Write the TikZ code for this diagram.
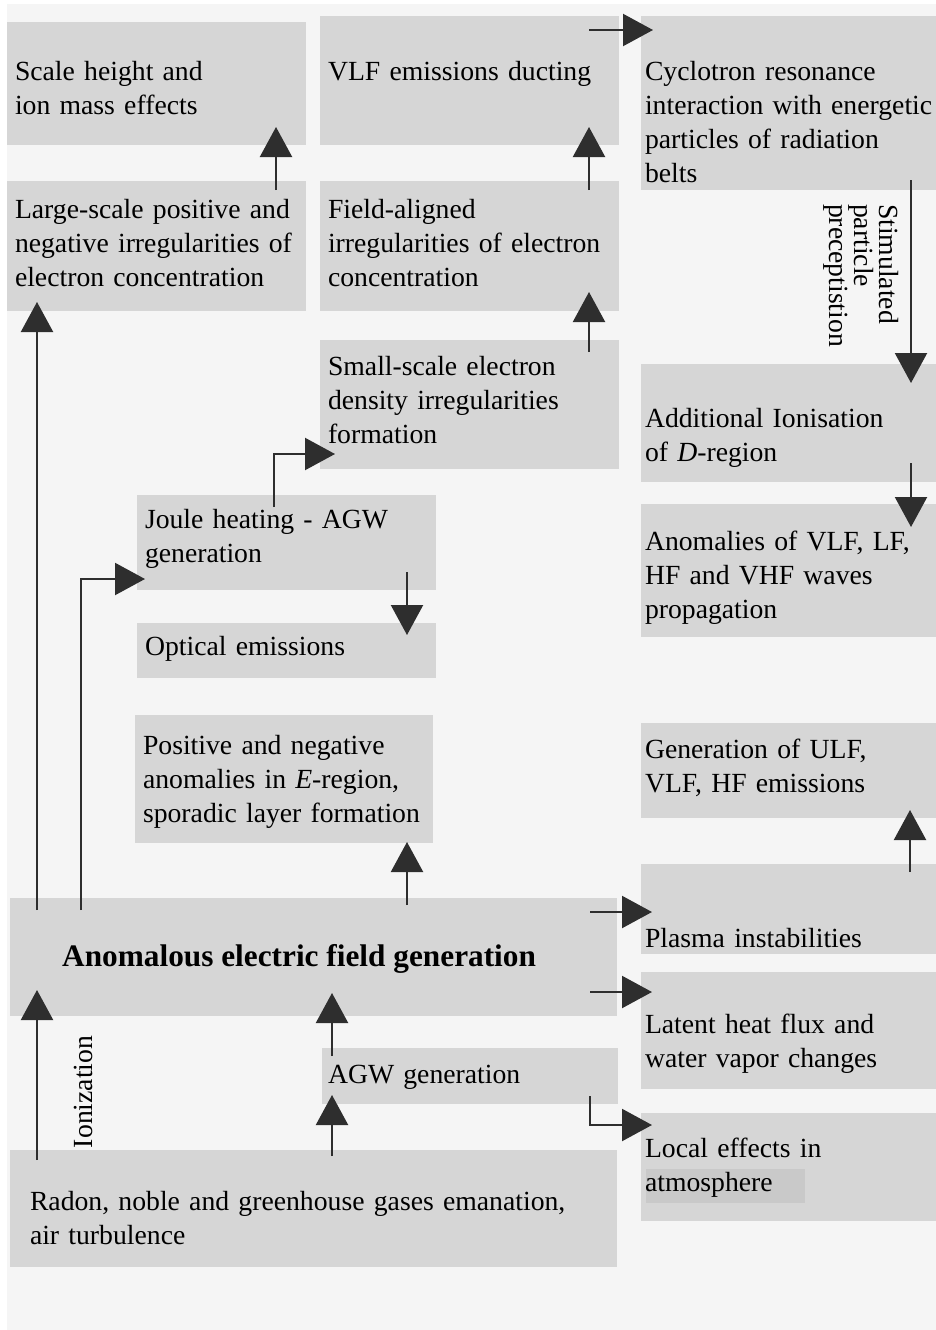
\documentclass[tikz,border=0pt]{standalone}
\usepackage{fontspec}
\setmainfont{Liberation Serif}
\usetikzlibrary{arrows.meta,calc}
\definecolor{bgc}{HTML}{F5F5F5}
\definecolor{boxc}{HTML}{D6D6D6}
\definecolor{arrc}{HTML}{2E2E2E}
\definecolor{hlc}{HTML}{C9C9C9}
\newcommand\mkbox[5]{\node[boxnode,minimum width={#4pt-#2pt},minimum height={#5pt-#3pt}] (#1) at (#2,#3) {};}
\begin{document}
\begin{tikzpicture}[x=1pt,y=-1pt,
  boxnode/.style={fill=boxc,draw=none,inner sep=0pt,outer sep=0pt,anchor=north west},
  txt/.style={anchor=north west,inner sep=0pt,outer sep=0pt,align=left,text width=#1,
    font=\fontsize{27.7}{34}\selectfont,execute at begin node=\strut},
  rot/.style={inner sep=0pt,outer sep=0pt,align=left,font=\fontsize{27.7}{25}\selectfont},
  arr/.style={draw=arrc,line width=2.2pt,-{Triangle[length=30pt,width=32pt,fill=arrc]}}]
\useasboundingbox (0,0) rectangle (936,1330);
\fill[white] (0,0) rectangle (936,1330);
\fill[bgc] (7,4) rectangle (936,1330);
% boxes
\mkbox{sh}{7}{22}{306}{145}
\mkbox{vlf}{320}{16}{619}{145}
\mkbox{cyc}{641}{16}{936}{190}
\mkbox{lg}{7}{181}{306}{311}
\mkbox{fa}{320}{181}{619}{311}
\mkbox{ss}{320}{340}{619}{469}
\mkbox{ai}{641}{364}{936}{482}
\mkbox{an}{641}{504}{936}{637}
\mkbox{jh}{137}{495}{436}{590}
\mkbox{oe}{137}{623}{436}{678}
\mkbox{pn}{135}{715}{433}{843}
\mkbox{gu}{641}{723}{936}{818}
\mkbox{ae}{10}{898}{617}{1016}
\mkbox{pi}{641}{864}{936}{954}
\mkbox{lh}{641}{972}{936}{1089}
\mkbox{agw}{322}{1048}{618}{1104}
\mkbox{le}{641}{1113}{936}{1221}
\mkbox{rd}{10}{1150}{617}{1267}
\fill[hlc] (646,1169) rectangle (805,1203);
% texts
\node[txt=400pt] (tsh) at (15,57) {Scale height and\\ion mass effects};
\node[txt=400pt] (tvlf) at (328,57) {VLF emissions ducting};
\node[txt=400pt] (tcyc) at (645,57) {Cyclotron resonance\\interaction with energetic\\particles of radiation\\belts};
\node[txt=400pt] (tlg) at (15,195) {Large-scale positive and\\negative irregularities of\\electron concentration};
\node[txt=400pt] (tfa) at (328,195) {Field-aligned\\irregularities of electron\\concentration};
\node[txt=400pt] (tss) at (328,352) {Small-scale electron\\density irregularities\\formation};
\node[txt=400pt] (tai) at (645,404) {Additional Ionisation\\of \textit{D}-region};
\node[txt=400pt] (tan) at (645,527) {Anomalies of VLF, LF,\\HF and VHF waves\\propagation};
\node[txt=400pt] (tjh) at (145,505) {Joule heating - AGW\\generation};
\node[txt=400pt] (toe) at (145,632) {Optical emissions};
\node[txt=400pt] (tpn) at (143,731) {Positive and negative\\anomalies in \textit{E}-region,\\sporadic layer formation};
\node[txt=400pt] (tgu) at (645,735) {Generation of ULF,\\VLF, HF emissions};
\node[anchor=base west,inner sep=0pt,font=\fontsize{31.3}{34}\selectfont\bfseries] (tae) at (62,966) {Anomalous electric field generation};
\node[txt=400pt] (tpi) at (645,924) {Plasma instabilities};
\node[txt=400pt] (tlh) at (645,1010) {Latent heat flux and\\water vapor changes};
\node[txt=400pt] (tagw) at (328,1060) {AGW generation};
\node[txt=400pt] (tle) at (645,1134) {Local effects in\\atmosphere};
\node[txt=700pt] (trd) at (30,1187) {Radon, noble and greenhouse gases emanation,\\air turbulence};
% rotated labels
\node[rot,rotate=-90,anchor=north west] (lstim) at (899,204) {Stimulated\\particle\\preceptistion};
\node[rot,rotate=90,anchor=base west,font=\fontsize{27.7}{34}\selectfont] (lion) at (92,1148) {Ionization};
% arrows
\draw[arr] ($(lg.north west)+(269,9)$) -- ($(sh.south west)+(269,-18)$);
\draw[arr] ($(fa.north west)+(269,9)$) -- ($(vlf.south west)+(269,-18)$);
\draw[arr] ($(vlf.north east)+(-30,14)$) -- ($(cyc.north west)+(12,14)$);
\draw[arr] ($(cyc.south east)+(-25,-10)$) -- ($(ai.north east)+(-25,19)$);
\draw[arr] ($(ss.north west)+(269,12)$) -- ($(fa.south west)+(269,-19)$);
\draw[arr] ($(ai.south east)+(-25,-19)$) -- ($(an.north east)+(-25,23)$);
\draw[arr] ($(jh.north west)+(137,12)$) |- ($(ss.south west)+(15,-15)$);
\draw[arr] ($(ae.north west)+(71,12)$) |- ($(jh.south west)+(8,-11)$);
\draw[arr] ($(jh.south west)+(270,-18)$) -- ($(oe.north west)+(270,12)$);
\draw[arr] ($(ae.north west)+(27,12)$) -- ($(lg.south west)+(30,-9)$);
\draw[arr] ($(ae.north west)+(397,7)$) -- ($(pn.south west)+(272,-1)$);
\draw[arr] ($(pi.north east)+(-26,8)$) -- ($(gu.south east)+(-26,-8)$);
\draw[arr] ($(ae.north east)+(-27,14)$) -- ($(pi.north west)+(11,48)$);
\draw[arr] ($(ae.south east)+(-27,-24)$) -- ($(lh.north west)+(11,20)$);
\draw[arr] ($(agw.south east)+(-28,-8)$) |- ($(le.north west)+(11,12)$);
\draw[arr] ($(rd.north west)+(27,10)$) -- ($(ae.south west)+(27,-26)$);
\draw[arr] ($(rd.north west)+(322,6)$) -- ($(agw.south west)+(10,-9)$);
\draw[arr] ($(agw.north west)+(10,8)$) -- ($(ae.south west)+(322,-23)$);
\end{tikzpicture}
\end{document}
